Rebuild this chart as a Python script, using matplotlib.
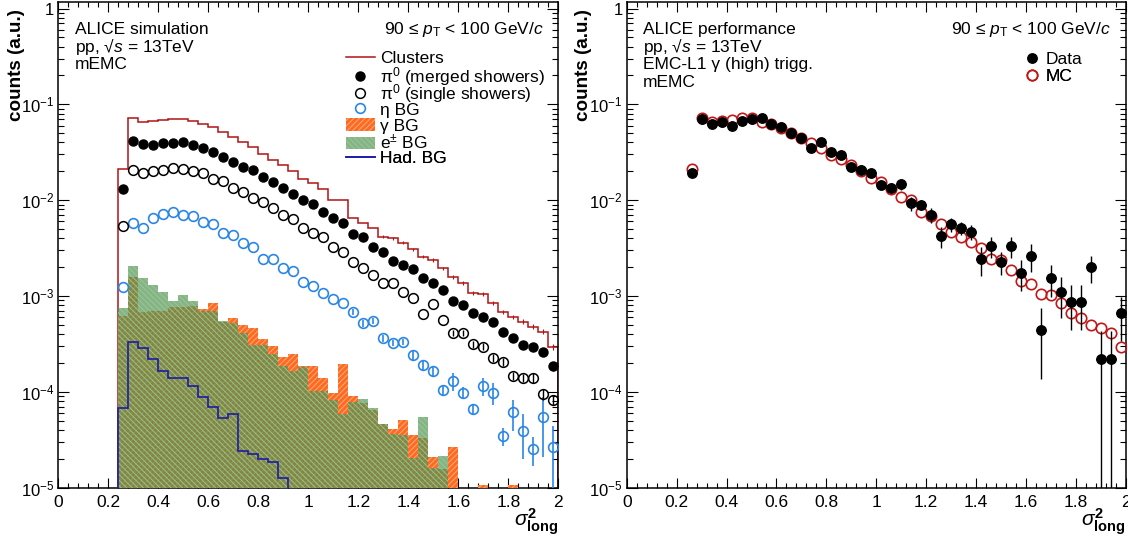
import numpy as np
import matplotlib
matplotlib.use("Agg")
import matplotlib.pyplot as plt
from matplotlib.ticker import FixedLocator, FixedFormatter, LogLocator, NullFormatter, MultipleLocator

plt.rcParams['font.family'] = ['Liberation Sans', 'DejaVu Sans']
plt.rcParams['mathtext.fontset'] = 'custom'
plt.rcParams['mathtext.rm'] = 'Liberation Sans'
plt.rcParams['mathtext.it'] = 'Liberation Sans:italic'
plt.rcParams['mathtext.bf'] = 'Liberation Sans:bold'
plt.rcParams['hatch.linewidth'] = 0.7

# ---------------- data ----------------
bin_lo = 0.24
bin_w = 0.04
n_bins = 44

clusters = [0.0210, 0.0726, 0.0650, 0.0667, 0.0687, 0.0710, 0.0710, 0.0676, 0.0624, 0.0577,
            0.0512, 0.0454, 0.0402, 0.0356, 0.0301, 0.0263, 0.0233, 0.0203, 0.0165, 0.0150,
            0.0130, 0.0100, 0.0100, 0.00647, 0.00574, 0.00509, 0.00416, 0.00400, 0.00360, 0.00307,
            0.00257, 0.00238, 0.00195, 0.00159, 0.00136, 0.00108, 0.00105, 8.45e-4, 6.86e-4, 6.08e-4,
            5.4e-4, 4.79e-4, 4.24e-4, 2.96e-4]
clusters_err = [0, 0, 0, 0, 0, 0, 0, 0, 0, 0,
                0, 0, 0, 0, 0, 0, 0, 0, 0, 0,
                0, 0, 0, 0, 0, 0, 1.5e-4, 1.5e-4, 1.3e-4, 1.2e-4,
                1.0e-4, 1.0e-4, 8e-5, 7e-5, 6e-5, 5e-5, 5e-5, 4e-5, 3.5e-5, 3.2e-5,
                3e-5, 2.8e-5, 2.6e-5, 2.2e-5]

pi0_merged = [0.0130, 0.0418, 0.0387, 0.0374, 0.0392, 0.0398, 0.0408, 0.0377, 0.0348, 0.0321,
              0.0284, 0.0249, 0.0224, 0.0207, 0.0173, 0.0154, 0.0133, 0.0115, 0.0100, 0.00906,
              0.00759, 0.00656, 0.00582, 0.00444, 0.00416, 0.00327, 0.00290, 0.00232, 0.00213, 0.00190,
              0.00153, 0.00137, 0.00116, 8.8e-4, 8.05e-4, 6.6e-4, 6.08e-4, 5.31e-4, 4.18e-4, 3.62e-4,
              3.08e-4, 2.96e-4, 2.62e-4, 1.86e-4]
pi0_merged_err = [0, 0, 0, 0, 0, 0, 0, 0, 0, 0,
                  0, 0, 0, 0, 0, 0, 0, 0, 0, 0,
                  0, 0, 0, 0, 0, 0, 0, 0, 0, 0,
                  5e-5, 5e-5, 4.5e-5, 4e-5, 4e-5, 3.5e-5, 3.5e-5, 3e-5, 3e-5, 2.8e-5,
                  2.6e-5, 2.6e-5, 2.5e-5, 2e-5]

pi0_single = [0.00538, 0.0207, 0.0191, 0.0202, 0.0207, 0.0216, 0.0212, 0.0202, 0.0191, 0.0166,
              0.0158, 0.0135, 0.0121, 0.0106, 0.0095, 0.00822, 0.00701, 0.00637, 0.00509, 0.00451,
              0.00416, 0.00327, 0.00290, 0.00225, 0.00197, 0.00166, 0.00136, 0.00138, 0.00109, 9.46e-4,
              6.44e-4, 8.18e-4, 5.62e-4, 4.14e-4, 4.14e-4, 3.13e-4, 2.96e-4, 2.27e-4, 2.06e-4, 1.47e-4,
              1.40e-4, 1.40e-4, 9.4e-5, 8.2e-5]
pi0_single_err = [0, 0, 0, 0, 0, 0, 0, 0, 0, 0,
                  0, 0, 0, 0, 0, 0, 0, 0, 0, 0,
                  0, 0, 0, 0, 0, 0, 0, 0, 0, 0,
                  0, 0, 0, 3e-5, 3e-5, 2.5e-5, 2.5e-5, 2.2e-5, 2e-5, 1.5e-5,
                  1.5e-5, 1.6e-5, 1.2e-5, 1e-5]

eta_bg = [0.00125, 0.00574, 0.00509, 0.00656, 0.00713, 0.00748, 0.00701, 0.00685, 0.00597, 0.0056,
          0.00451, 0.00434, 0.00355, 0.00322, 0.00242, 0.00242, 0.00197, 0.00184, 0.00141, 0.00128,
          0.00107, 9.24e-4, 8.4e-4, 6.86e-4, 5.19e-4, 5.52e-4, 3.62e-4, 3.26e-4, 3.3e-4, 2.42e-4,
          1.9e-4, 1.65e-4, 1.05e-4, 1.3e-4, 9.8e-5, 6.56e-5, 1.15e-4, 9.8e-5, 3.48e-5, 6.1e-5,
          3.9e-5, 2.53e-5, 5.5e-5, 2.68e-5]
eta_bg_err = [0, 0, 0, 0, 0, 0, 0, 0, 0, 0,
              0, 0, 0, 0, 0, 0, 0, 0, 0, 0,
              0, 0, 0, 5e-5, 4e-5, 4e-5, 3e-5, 2.5e-5, 2.5e-5, 3.1e-5,
              2.4e-5, 2.1e-5, 1.2e-5, 2.7e-5, 1.3e-5, 8.5e-6, 2.4e-5, 2.6e-5, 7.3e-6, 2.2e-5,
              1.9e-5, 8.3e-6, 3.4e-5, 1.7e-5]

gamma_bg = [6.18e-4, 1.57e-3, 6.86e-4, 6.96e-4, 6.96e-4, 7.62e-4, 7.62e-4, 7.87e-4, 7.31e-4, 8.39e-4,
            5.4e-4, 5.85e-4, 4.98e-4, 4.6e-4, 3.53e-4, 3.0e-4, 2.29e-4, 2.48e-4, 1.87e-4, 1.87e-4,
            1.4e-4, 9.6e-5, 1.94e-4, 9.0e-5, 7.65e-5, 6.5e-5, 4.6e-5, 4.1e-5, 5.1e-5, 3.56e-5,
            3.28e-5, 2.11e-5, 1.55e-5, 2.63e-5, 0, 0, 1.06e-5, 0, 0, 1.06e-5,
            0, 0, 0, 0]

ele_bg = [7.45e-4, 2.06e-3, 1.55e-3, 1.30e-3, 1.09e-3, 8.87e-4, 1.02e-3, 8.87e-4, 6.96e-4, 6.96e-4,
          5.5e-4, 5.26e-4, 4.07e-4, 3.08e-4, 3.08e-4, 2.48e-4, 1.86e-4, 1.66e-4, 1.83e-4, 1.03e-4,
          1.03e-4, 8.2e-5, 5.8e-5, 7.8e-5, 8.4e-5, 6.7e-5, 4.6e-5, 3.6e-5, 3.56e-5, 2.03e-5,
          5.5e-5, 1.6e-5, 2.15e-5, 0, 0, 0, 0, 0, 0, 0,
          0, 0, 0, 0]

had_bg = [6.73e-5, 3.29e-4, 2.85e-4, 2.18e-4, 1.66e-4, 1.4e-4, 1.4e-4, 1.16e-4, 8.76e-5, 7.0e-5,
          5.37e-5, 5.82e-5, 2.41e-5, 2.24e-5, 1.97e-5, 1.83e-5, 1.25e-5, 0, 0, 0,
          0, 0, 0, 0, 0, 0, 0, 0, 0, 0,
          0, 0, 0, 0, 0, 0, 0, 0, 0, 0,
          0, 0, 0, 0]

data = [0.0194, 0.0700, 0.0620, 0.0659, 0.0600, 0.0671, 0.0705, 0.0727, 0.0620, 0.0585,
        0.0507, 0.0443, 0.0353, 0.0402, 0.0321, 0.0296, 0.0220, 0.0207, 0.0191, 0.0144,
        0.0133, 0.0147, 0.00929, 0.0089, 0.00701, 0.00423, 0.0056, 0.00517, 0.00469, 0.00243,
        0.00333, 0.00228, 0.00333, 0.00175, 0.00264, 4.41e-4, 1.53e-3, 1.09e-3, 8.73e-4, 8.73e-4,
        2.0e-3, 2.18e-4, 2.18e-4, 6.6e-4]
data_err = [0.0010, 0.0020, 0.0020, 0.0020, 0.0020, 0.0020, 0.0020, 0.0020, 0.0020, 0.0020,
            0.0018, 0.0017, 0.0025, 0.0025, 0.0016, 0.0015, 0.0013, 0.0013, 0.0013, 0.0012,
            0.0012, 0.0019, 0.0016, 0.0011, 0.0012, 0.00105, 0.0009, 0.0008, 0.00082, 0.0008,
            0.00083, 0.00062, 0.00083, 0.00063, 0.00085, 3.05e-4, 5.6e-4, 5.0e-4, 4.3e-4, 4.3e-4,
            6.2e-4, 2.18e-4, 2.18e-4, 3.2e-4]

mc = [0.0212, 0.0727, 0.0659, 0.0671, 0.0687, 0.0716, 0.0716, 0.0659, 0.0620, 0.0571,
      0.0507, 0.0449, 0.0392, 0.0353, 0.0296, 0.0267, 0.0233, 0.0203, 0.0172, 0.0153,
      0.0130, 0.0109, 0.0100, 0.00759, 0.00685, 0.0056, 0.00469, 0.00416, 0.00369, 0.00315,
      0.00243, 0.00238, 0.00187, 0.00145, 0.00132, 1.04e-3, 1.02e-3, 8.5e-4, 6.7e-4, 5.85e-4,
      4.98e-4, 4.67e-4, 4.14e-4, 2.96e-4]

x_ticks = [0, 0.2, 0.4, 0.6, 0.8, 1.0, 1.2, 1.4, 1.6, 1.8, 2.0]
x_tick_labels = ['0', '0.2', '0.4', '0.6', '0.8', '1', '1.2', '1.4', '1.6', '1.8', '2']
y_ticks = [1e-5, 1e-4, 1e-3, 1e-2, 1e-1, 1]
y_tick_labels = ['$10^{-5}$', '$10^{-4}$', '$10^{-3}$', '$10^{-2}$', '$10^{-1}$', '1']

left_labels = ['Clusters', 'π$^{0}$ (merged showers)', 'π$^{0}$ (single showers)', 'η BG',
               'γ BG', 'e$^{\\pm}$ BG', 'Had. BG']
right_labels = ['Data', 'MC']
pt_text = '90 ≤ $p_{\\mathrm{T}}$ < 100 GeV/$c$'
energy_text = 'pp, √$s$ = 13TeV'

# ---------------- derived bins ----------------
edges = bin_lo + bin_w * np.arange(n_bins + 1)
centers = edges[:-1] + bin_w / 2

# ---------------- style / layout ----------------
c_clu = '#b01414'
c_orange_face = '#ff6a22'
c_orange_hatch = '#ffad7d'
c_green_face = (0.31, 0.56, 0.31, 0.68)
c_green_hatch = (0.58, 0.80, 0.58, 0.9)
c_eta = '#2a86e6'
c_had = '#1c1ca6'
c_mc = '#c01818'
FS = 12.5
AX_BOTTOM_PX = 487.6
AX_HEIGHT_PX = 485.6
left_leg_rows_px = [58.5, 76.5, 93.5, 110, 126, 142.5, 158.5]
right_leg_rows_px = [59.5, 76.5]

fig = plt.figure(figsize=(11.28, 5.37), dpi=100)
ax1 = fig.add_axes([0.0517, 0.092, 0.4433, 0.9043])
ax2 = fig.add_axes([0.5557, 0.092, 0.4422, 0.9043])


def row_frac(py):
    return (AX_BOTTOM_PX - py) / AX_HEIGHT_PX


def style_axes(ax, ylab_x):
    ax.set_yscale('log')
    ax.set_xlim(0, 2)
    ax.set_ylim(1e-5, 1.17)
    ax.xaxis.set_major_locator(FixedLocator(x_ticks))
    ax.xaxis.set_major_formatter(FixedFormatter(x_tick_labels))
    ax.xaxis.set_minor_locator(MultipleLocator(0.04))
    ax.yaxis.set_major_locator(FixedLocator(y_ticks))
    ax.yaxis.set_major_formatter(FixedFormatter(y_tick_labels))
    ax.yaxis.set_minor_locator(LogLocator(base=10, subs=np.arange(2, 10)))
    ax.yaxis.set_minor_formatter(NullFormatter())
    ax.tick_params(which='both', direction='in', top=True, right=True, width=0.8)
    ax.tick_params(axis='x', which='major', length=7.5, pad=5, labelsize=12.5)
    ax.tick_params(axis='x', which='minor', length=3.8)
    ax.tick_params(axis='y', which='major', length=8, pad=3, labelsize=12)
    ax.tick_params(axis='y', which='minor', length=4)
    for s in ax.spines.values():
        s.set_linewidth(1.1)
    ax.set_ylabel('counts (a.u.)', fontsize=13.6, fontweight='bold', loc='top')
    ax.yaxis.set_label_coords(ylab_x, 0.985)
    ax.set_xlabel(r'$\sigma^{\mathbf{2}}_{\mathbf{long}}$', fontsize=15, loc='right')
    ax.xaxis.set_label_coords(1.0, -0.039)


def row_legends(ax, handles, labels, x, rows_px, handlelength):
    legs = []
    for h, lab, py in zip(handles, labels, rows_px):
        lg = ax.legend([h], [lab], loc='center left', bbox_to_anchor=(x, row_frac(py)), frameon=False,
                       fontsize=FS, handlelength=handlelength, handletextpad=0.3, borderpad=0,
                       borderaxespad=0, handleheight=0.7)
        ax.add_artist(lg)
        legs.append(lg)
    return legs


# ---------------- left panel ----------------
style_axes(ax1, -0.067)
h_clu = ax1.stairs(clusters, edges, baseline=1e-7, color=c_clu, linewidth=1.1, zorder=2)
ax1.errorbar(centers, clusters, yerr=clusters_err, fmt='none', ecolor=c_clu, elinewidth=0.8, zorder=2)
h_gam = ax1.bar(edges[:-1], gamma_bg, width=bin_w, align='edge', facecolor=c_orange_face,
                edgecolor=c_orange_hatch, hatch='//////', linewidth=0, zorder=3)
h_ele = ax1.bar(edges[:-1], ele_bg, width=bin_w, align='edge', facecolor=c_green_face,
                edgecolor=c_green_hatch, hatch='\\\\\\\\\\\\', linewidth=0, zorder=4)
h_had = ax1.stairs(had_bg, edges, baseline=1e-7, color=c_had, linewidth=1.2, zorder=5)
e_eta = ax1.errorbar(centers, eta_bg, yerr=eta_bg_err, fmt='o', ms=7, mfc='none', mec=c_eta, mew=1.2,
                     ecolor=c_eta, elinewidth=1.2, capsize=0, zorder=6)
e_sgl = ax1.errorbar(centers, pi0_single, yerr=pi0_single_err, fmt='o', ms=7, mfc='none', mec='black', mew=1.1,
                     ecolor='black', elinewidth=1.0, capsize=0, zorder=7)
e_mrg = ax1.errorbar(centers, pi0_merged, yerr=pi0_merged_err, fmt='o', ms=6.5, mfc='black', mec='black',
                     ecolor='black', elinewidth=1.0, capsize=0, zorder=8)

handles = [h_clu, e_mrg[0], e_sgl[0], e_eta[0], h_gam, h_ele, h_had]
row_legends(ax1, handles, left_labels, 0.575, left_leg_rows_px, 1.67)

ax1.text(0.033, 0.934, 'ALICE simulation', transform=ax1.transAxes, fontsize=FS, va='baseline')
ax1.text(0.033, 0.897, energy_text, transform=ax1.transAxes, fontsize=FS, va='baseline')
ax1.text(0.033, 0.862, 'mEMC', transform=ax1.transAxes, fontsize=FS, va='baseline')
ax1.text(0.97, 0.934, pt_text, transform=ax1.transAxes, fontsize=FS, va='baseline', ha='right')

# ---------------- right panel ----------------
style_axes(ax2, -0.069)
e_mc = ax2.plot(centers, mc, 'o', ms=7.5, mfc='none', mec=c_mc, mew=1.2, zorder=5)
e_dat = ax2.errorbar(centers, data, yerr=data_err, xerr=bin_w / 2, fmt='o', ms=6.8, mfc='black', mec='black',
                     ecolor='black', elinewidth=1.0, capsize=0, zorder=6)
row_legends(ax2, [e_dat[0], e_mc[0]], right_labels, 0.795, right_leg_rows_px, 1.0)

ax2.text(0.033, 0.934, 'ALICE performance', transform=ax2.transAxes, fontsize=FS, va='baseline')
ax2.text(0.033, 0.897, energy_text, transform=ax2.transAxes, fontsize=FS, va='baseline')
ax2.text(0.033, 0.861, 'EMC-L1 γ (high) trigg.', transform=ax2.transAxes, fontsize=FS, va='baseline')
ax2.text(0.033, 0.825, 'mEMC', transform=ax2.transAxes, fontsize=FS, va='baseline')
ax2.text(0.97, 0.934, pt_text, transform=ax2.transAxes, fontsize=FS, va='baseline', ha='right')

fig.savefig('out.png', dpi=100)
